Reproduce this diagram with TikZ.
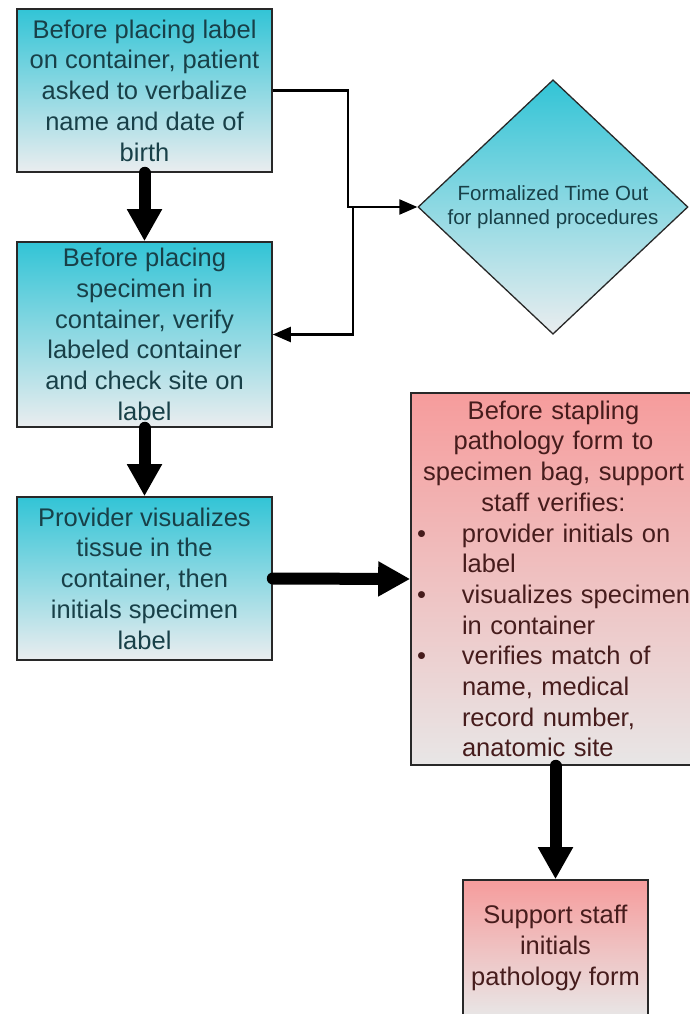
\documentclass[tikz,border=0pt]{standalone}
\usepackage{fontspec}
\setmainfont{Liberation Sans}
\usetikzlibrary{shapes.geometric,arrows.meta}
\definecolor{cyanTop}{RGB}{50,196,214}
\definecolor{cyanMid}{RGB}{128,209,221}
\definecolor{cyanBot}{RGB}{234,237,239}
\definecolor{pinkTop}{RGB}{246,156,156}
\definecolor{pinkMid}{RGB}{240,195,195}
\definecolor{pinkBot}{RGB}{232,230,230}
\definecolor{tealText}{RGB}{24,64,72}
\definecolor{redText}{RGB}{70,28,28}
\definecolor{edge}{RGB}{40,40,40}
\tikzset{
  bigfont/.style={font=\fontsize{25.5}{30.7}\selectfont},
  cyanbox/.style={rectangle, draw=edge, line width=1.6pt, top color=cyanTop, middle color=cyanMid, bottom color=cyanBot,
    text=tealText, bigfont, align=center, inner sep=4pt},
  pinkbox/.style={rectangle, draw=edge, line width=1.6pt, top color=pinkTop, middle color=pinkMid, bottom color=pinkBot,
    text=redText, bigfont, inner sep=5pt},
  decision/.style={diamond, draw=edge, line width=1.3pt, top color=cyanTop, middle color=cyanMid, bottom color=cyanBot,
    text=tealText, font=\fontsize{20.5}{24.5}\selectfont, align=center, inner sep=0pt},
  bigarrow/.style={line width=12pt, line cap=round, -{Triangle[length=32pt,width=33pt]}},
  thinarrow/.style={line width=2.2pt, -{Triangle[length=18pt,width=15pt]}},
}
\newcommand{\bulitem}{\makebox[46pt][l]{\hspace*{1pt}\textbullet}}
\begin{document}
\begin{tikzpicture}[x=1pt,y=-1pt]
\useasboundingbox (0,0) rectangle (690,1014);
\node[cyanbox, minimum width=255pt, minimum height=163pt] (b1) at (144.5,90.5)
  {Before placing label\\on container, patient\\asked to verbalize\\name and date of\\birth};
\node[cyanbox, minimum width=255pt, minimum height=185pt] (b2) at (144.5,334.5)
  {Before placing\\specimen in\\container, verify\\labeled container\\and check site on\\label};
\node[cyanbox, minimum width=255pt, minimum height=163pt] (b3) at (144.5,578.5)
  {Provider visualizes\\tissue in the\\container, then\\initials specimen\\label};
\node[decision, minimum width=270pt, minimum height=207pt] (dia) at (553,207)
  {Formalized Time Out\\for planned procedures};
\node[pinkbox, minimum width=300pt, minimum height=372pt, text width=290pt, align=left] (pk) at (561,579)
  {\makebox[275pt][c]{Before stapling}\\
   \makebox[275pt][c]{pathology form to}\\
   \makebox[275pt][c]{specimen bag, support}\\
   \makebox[275pt][c]{staff verifies:}\\
   \bulitem provider initials on\\
   \hspace*{46pt}label\\
   \bulitem visualizes specimen\\
   \hspace*{46pt}in container\\
   \bulitem verifies match of\\
   \hspace*{46pt}name, medical\\
   \hspace*{46pt}record number,\\
   \hspace*{46pt}anatomic site};
\node[pinkbox, minimum width=185pt, minimum height=136pt, align=center] (pk2) at (555.5,948)
  {Support staff\\initials\\pathology form};
\coordinate (j1) at (348,207);
\coordinate (j2) at (353,207);
\draw[thinarrow] (b1.east) -| (j1) -- (dia.west);
\draw[thinarrow] (j2) |- (b2.east);
\draw[bigarrow] (b1.south) -- (b2.north);
\draw[bigarrow] (b2.south) -- (b3.north);
\draw[bigarrow] (b3.east) -- (pk.west);
\draw[bigarrow] (pk2.north |- pk.south) -- (pk2.north);
\end{tikzpicture}
\end{document}
